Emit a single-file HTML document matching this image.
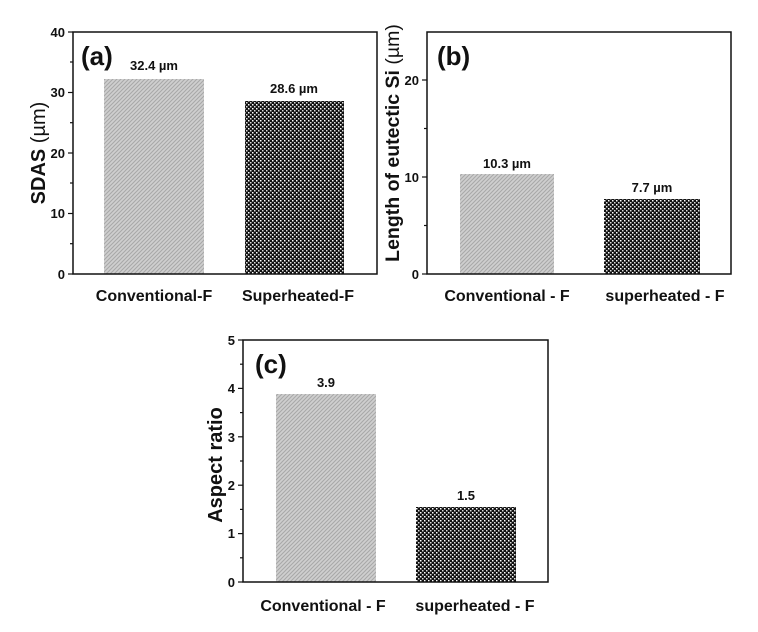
<!DOCTYPE html>
<html><head><style>body{margin:0;background:#fff}svg{display:block}text{font-family:"Liberation Sans",Arial,sans-serif;font-weight:bold;fill:#111}</style></head><body>
<svg width="758" height="632" viewBox="0 0 758 632" xmlns="http://www.w3.org/2000/svg">
<defs>
<pattern id="h" width="4" height="4" patternUnits="userSpaceOnUse"><rect width="4" height="4" fill="#cfcfcf"/><path d="M-1,1 L1,-1 M0,4 L4,0 M3,5 L5,3" stroke="#a8a8a8" stroke-width="1.1"/></pattern>
<pattern id="d" width="4" height="4" patternUnits="userSpaceOnUse"><rect width="4" height="4" fill="#111"/><rect x="0" y="0" width="1.5" height="1.5" fill="#fff"/><rect x="2" y="2" width="1.5" height="1.5" fill="#ddd"/></pattern>
</defs>
<g font-size="13">
<!-- a -->
<rect x="104" y="79" width="100" height="195" fill="url(#h)"/>
<rect x="245" y="101" width="99" height="173" fill="url(#d)"/>
<rect x="73" y="32" width="304" height="242" fill="none" stroke="#111" stroke-width="1.5"/>
<g stroke="#111" stroke-width="1.2">
<line x1="68" y1="32" x2="73" y2="32"/><line x1="68" y1="92.5" x2="73" y2="92.5"/><line x1="68" y1="153" x2="73" y2="153"/><line x1="68" y1="213.5" x2="73" y2="213.5"/><line x1="68" y1="274" x2="73" y2="274"/>
<line x1="70" y1="62" x2="73" y2="62"/><line x1="70" y1="122.7" x2="73" y2="122.7"/><line x1="70" y1="183" x2="73" y2="183"/><line x1="70" y1="243.7" x2="73" y2="243.7"/>
</g>
<g text-anchor="end" font-size="13"><text x="65" y="37">40</text><text x="65" y="97">30</text><text x="65" y="158">20</text><text x="65" y="218">10</text><text x="65" y="279">0</text></g>
<text x="81" y="65" font-size="26">(a)</text>
<text x="154" y="70" text-anchor="middle" font-size="13">32.4 µm</text>
<text x="294" y="93" text-anchor="middle" font-size="13">28.6 µm</text>
<text x="154" y="301" text-anchor="middle" font-size="16">Conventional-F</text>
<text x="298" y="301" text-anchor="middle" font-size="16">Superheated-F</text>
<text transform="translate(45,153) rotate(-90)" text-anchor="middle" font-size="20">SDAS <tspan font-weight="normal">(µm)</tspan></text>
<!-- b -->
<rect x="460" y="174" width="94" height="100" fill="url(#h)"/>
<rect x="604" y="199" width="96" height="75" fill="url(#d)"/>
<rect x="427" y="32" width="304" height="242" fill="none" stroke="#111" stroke-width="1.5"/>
<g stroke="#111" stroke-width="1.2">
<line x1="422" y1="80" x2="427" y2="80"/><line x1="422" y1="177" x2="427" y2="177"/><line x1="422" y1="274" x2="427" y2="274"/>
<line x1="424" y1="128.5" x2="427" y2="128.5"/><line x1="424" y1="225.5" x2="427" y2="225.5"/>
</g>
<g text-anchor="end" font-size="13"><text x="419" y="85">20</text><text x="419" y="182">10</text><text x="419" y="279">0</text></g>
<text x="437" y="65" font-size="26">(b)</text>
<text x="507" y="168" text-anchor="middle" font-size="13">10.3 µm</text>
<text x="652" y="192" text-anchor="middle" font-size="13">7.7 µm</text>
<text x="507" y="301" text-anchor="middle" font-size="16">Conventional - F</text>
<text x="665" y="301" text-anchor="middle" font-size="16">superheated - F</text>
<text transform="translate(399,143) rotate(-90)" text-anchor="middle" font-size="19.5">Length of eutectic Si <tspan font-weight="normal">(µm)</tspan></text>
<!-- c -->
<rect x="276" y="394" width="100" height="188" fill="url(#h)"/>
<rect x="416" y="507" width="100" height="75" fill="url(#d)"/>
<rect x="243" y="340" width="305" height="242" fill="none" stroke="#111" stroke-width="1.5"/>
<g stroke="#111" stroke-width="1.2">
<line x1="238" y1="340" x2="243" y2="340"/><line x1="238" y1="388.4" x2="243" y2="388.4"/><line x1="238" y1="436.8" x2="243" y2="436.8"/><line x1="238" y1="485.2" x2="243" y2="485.2"/><line x1="238" y1="533.6" x2="243" y2="533.6"/><line x1="238" y1="582" x2="243" y2="582"/>
<line x1="240" y1="364.2" x2="243" y2="364.2"/><line x1="240" y1="412.6" x2="243" y2="412.6"/><line x1="240" y1="461" x2="243" y2="461"/><line x1="240" y1="509.4" x2="243" y2="509.4"/><line x1="240" y1="557.8" x2="243" y2="557.8"/>
</g>
<g text-anchor="end" font-size="13"><text x="235" y="345">5</text><text x="235" y="393">4</text><text x="235" y="442">3</text><text x="235" y="490">2</text><text x="235" y="538">1</text><text x="235" y="587">0</text></g>
<text x="255" y="373" font-size="26">(c)</text>
<text x="326" y="387" text-anchor="middle" font-size="13">3.9</text>
<text x="466" y="500" text-anchor="middle" font-size="13">1.5</text>
<text x="323" y="611" text-anchor="middle" font-size="16">Conventional - F</text>
<text x="475" y="611" text-anchor="middle" font-size="16">superheated - F</text>
<text transform="translate(222,465) rotate(-90)" text-anchor="middle" font-size="20">Aspect ratio</text>
</g>
</svg>
</body></html>
